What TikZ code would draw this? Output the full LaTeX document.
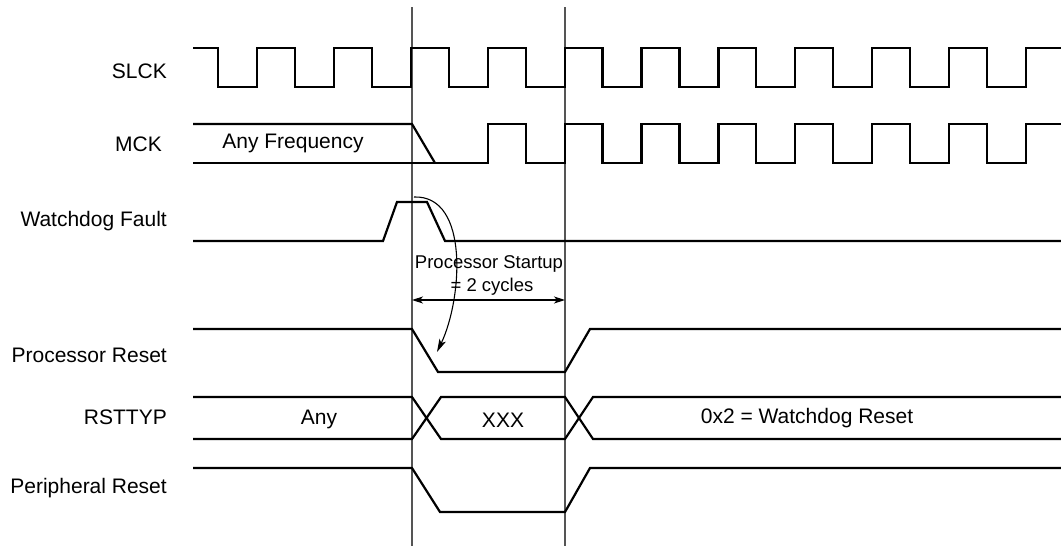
\documentclass[tikz,border=0pt]{standalone}
\usepackage{fontspec}
\setmainfont{Liberation Sans}
\usetikzlibrary{arrows.meta}
\definecolor{vlinecol}{RGB}{85,85,85}
\tikzset{
  sig/.style={line width=2.2pt, line join=miter, black},
  vline/.style={line width=1.4pt, vlinecol},
  lbl/.style={anchor=east, inner sep=0pt, font=\fontsize{21}{24}\selectfont},
  txt/.style={inner sep=0pt, font=\fontsize{21}{24}\selectfont},
  small/.style={inner sep=0pt, font=\fontsize{18.5}{22}\selectfont},
  thinarrow/.style={line width=1.1pt, black}
}
\begin{document}
\begin{tikzpicture}[x=1pt,y=-1pt]
\useasboundingbox (0,0) rectangle (1061,546);
\fill[white] (0,0) rectangle (1061,546);

% vertical reference lines
\coordinate (v1top) at (412,7);
\coordinate (v1bot) at (412,546);
\coordinate (v2top) at (565,7);
\coordinate (v2bot) at (565,546);
\draw[vline] (v1top) -- (v1bot);
\draw[vline] (v2top) -- (v2bot);

% labels
\node[lbl] (lslck) at (167,71) {SLCK};
\node[lbl] (lmck) at (162,144) {MCK};
\node[lbl] (lwdf) at (167,221) {Watchdog Fault};
\node[lbl] (lprst) at (167,355) {Processor Reset};
\node[lbl] (lrst) at (167,417) {RSTTYP};
\node[lbl] (lper) at (167,488) {Peripheral Reset};

% SLCK
\draw[sig] (193,48)
  foreach \k in {0,...,10} {
    -- ({218+76.9*\k},48) -- ({218+76.9*\k},87) -- ({257+76.9*\k},87) -- ({257+76.9*\k},48)
  } -- (1061,48);

% MCK
\draw[sig] (193,124) -- (412,124) -- (435,163);
\draw[sig] (193,163) -- ({257+76.9*3},163) -- ({257+76.9*3},124)
  foreach \k in {4,...,10} {
    -- ({218+76.9*\k},124) -- ({218+76.9*\k},163) -- ({257+76.9*\k},163) -- ({257+76.9*\k},124)
  } -- (1061,124);
\node[txt] (anyf) at (293,143) {Any Frequency};

% Watchdog Fault
\draw[sig] (193,241) -- (383,241) -- (397,202) -- (427,202) -- (445,241) -- (1061,241);

% Processor Reset
\draw[sig] (193,329) -- (412,329) -- (438,372) -- (565,372) -- (590,329) -- (1061,329);

% RSTTYP
\draw[sig] (193,397) -- (412,397) -- (441,439) -- (565,439) -- (593,397) -- (1061,397);
\draw[sig] (193,439) -- (412,439) -- (441,397) -- (565,397) -- (593,439) -- (1061,439);
\node[txt] (vany) at (319,419) {Any};
\node[txt] (vxxx) at (503,420) {XXX};
\node[txt] (vwd) at (807,418) {0x2 = Watchdog Reset};

% Peripheral Reset
\draw[sig] (193,468) -- (412,468) -- (440,512) -- (565,512) -- (590,468) -- (1061,468);

% Processor Startup annotation
\node[small] (ps1) at (489,264) {Processor Startup};
\node[small] (ps2) at (492,287) {= 2 cycles};
\coordinate (da) at (412,300);
\coordinate (db) at (565,300);
\draw[thinarrow, {Stealth[length=11pt,width=7pt,inset=3pt]}-{Stealth[length=11pt,width=7pt,inset=3pt]}] (da) -- (db);

% curved causal arrow
\coordinate (cs) at (414,197);
\coordinate (ce) at (437,352);
\draw[thinarrow, -{Stealth[length=13pt,width=7pt,inset=3pt]}] (cs) .. controls (470,195) and (462,300) .. (ce);
\end{tikzpicture}
\end{document}
